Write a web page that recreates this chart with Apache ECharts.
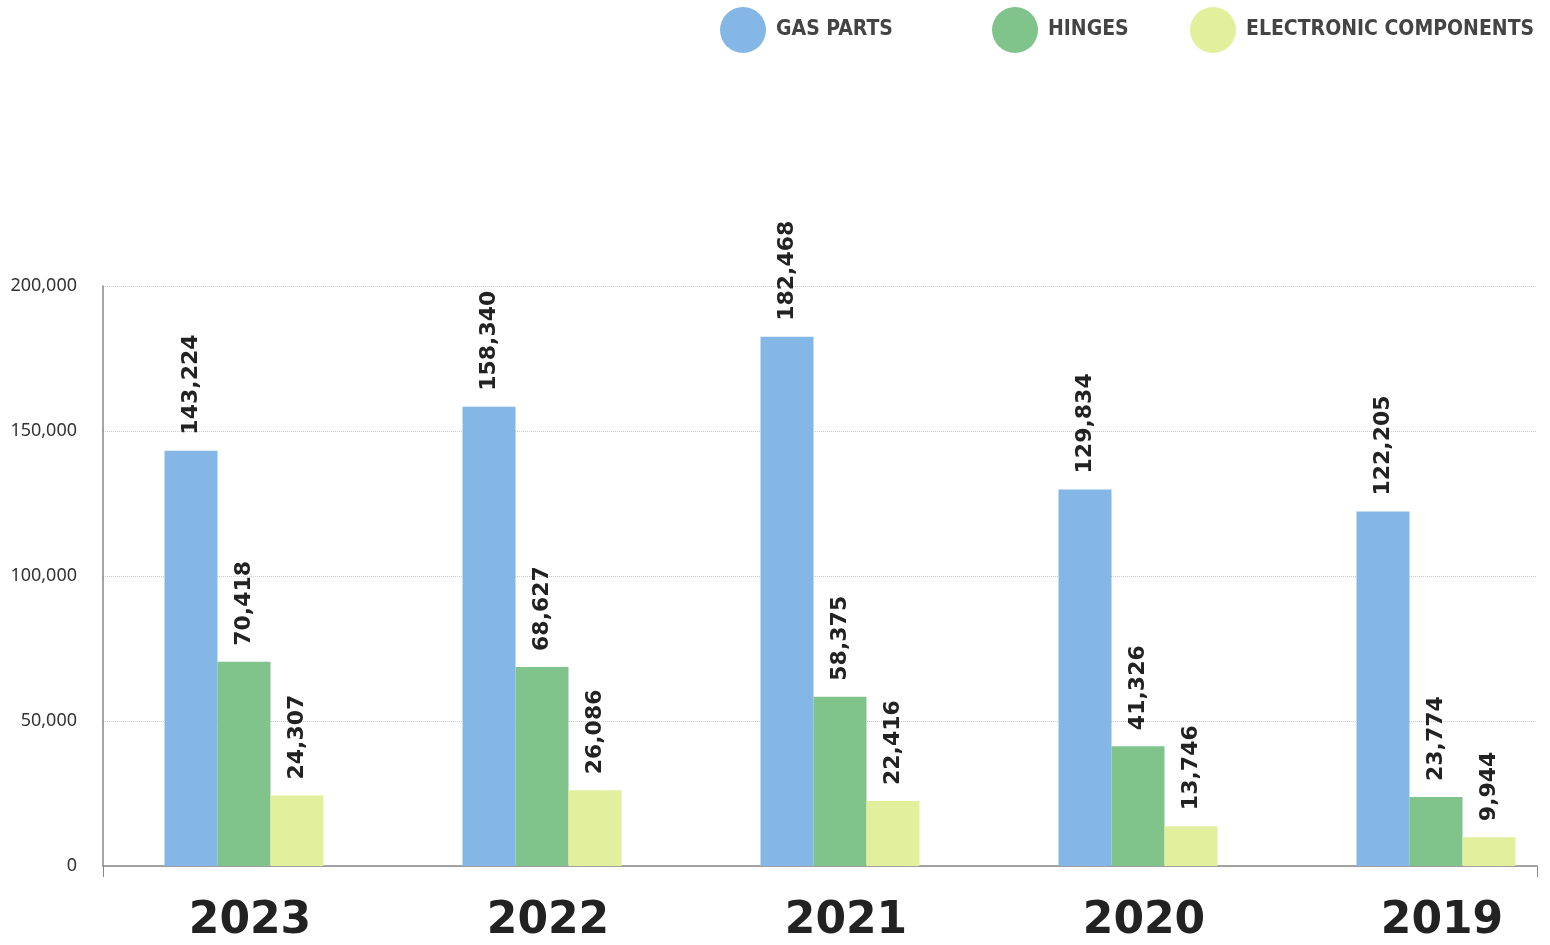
<!DOCTYPE html>
<html><head><meta charset="utf-8">
<script src="https://cdn.jsdelivr.net/npm/echarts@6/dist/echarts.min.js"></script>
<style>html,body{margin:0;padding:0;background:#fff;overflow:hidden}#c{width:1600px;height:945px}</style>
</head><body><div id="c"></div>
<script>
const categories = ['2023','2022','2021','2020','2019'];
const seriesNames = ['GAS PARTS','HINGES','ELECTRONIC COMPONENTS'];
const gasParts = [143224, 158340, 182468, 129834, 122205];
const hinges = [70418, 68627, 58375, 41326, 23774];
const electronic = [24307, 26086, 22416, 13746, 9944];
const yTicks = [0, 50000, 100000, 150000, 200000];
const colors = ['#84b7e5', '#80c48c', '#e2ef9c'];

const chart = echarts.init(document.getElementById('c'));
const fmt = v => v.toLocaleString('en-US');
const labelCfg = {
  show: true, position: 'top', rotate: 90, distance: 16, align: 'left', verticalAlign: 'middle',
  fontFamily: 'DejaVu Sans', fontWeight: 'bold', fontSize: 22, color: '#222',
  formatter: p => fmt(p.value)
};
const legendPos = [715, 987, 1185];
const yMin = yTicks[0], yMax = yTicks[yTicks.length - 1], yStep = yTicks[1] - yTicks[0];
chart.setOption({
  animation: false,
  legend: seriesNames.map((n, i) => ({
    data: [n], left: legendPos[i], top: 2, icon: 'circle', itemWidth: 46, itemHeight: 46, itemGap: 10,
    selectedMode: false,
    textStyle: { fontFamily: 'DejaVu Sans Condensed', fontWeight: 'bold', fontSize: 21, color: '#444', padding: [0, 0, 0, 5] }
  })),
  grid: [
    { left: 103, right: 63, top: 286, bottom: 79 },
    { left: 95, right: 15, top: 286, bottom: 79 }
  ],
  xAxis: [{
    gridIndex: 0, type: 'category', data: categories,
    axisLine: { lineStyle: { color: '#888', width: 1.5 } },
    axisTick: { show: true, length: 11, interval: i => i === 0, lineStyle: { color: '#888' } },
    axisLabel: { show: false }
  }, {
    gridIndex: 1, type: 'category', data: categories,
    axisLine: { show: false }, axisTick: { show: false },
    axisLabel: { fontFamily: 'DejaVu Sans', fontWeight: 'bold', fontSize: 44, color: '#222', margin: 34,
      padding: [0, 0, 0, 12] }
  }],
  yAxis: [{
    gridIndex: 0, type: 'value', min: yMin, max: yMax, interval: yStep,
    axisLine: { show: true, lineStyle: { color: '#888', width: 1.5 } },
    axisTick: { show: false },
    splitLine: { lineStyle: { color: '#ccc', type: 'dotted' } },
    axisLabel: { fontFamily: 'Noto Sans', fontSize: 18, color: '#333', margin: 26, formatter: v => fmt(v) }
  }, {
    gridIndex: 1, type: 'value', min: yMin, max: yMax, interval: yStep, show: false
  }],
  series: [gasParts, hinges, electronic].map((d, i) => ({
    name: seriesNames[i], type: 'bar', xAxisIndex: 1, yAxisIndex: 1, data: d, barWidth: 53, barGap: '0%',
    itemStyle: { color: colors[i] }, label: labelCfg
  }))
});
</script></body></html>
